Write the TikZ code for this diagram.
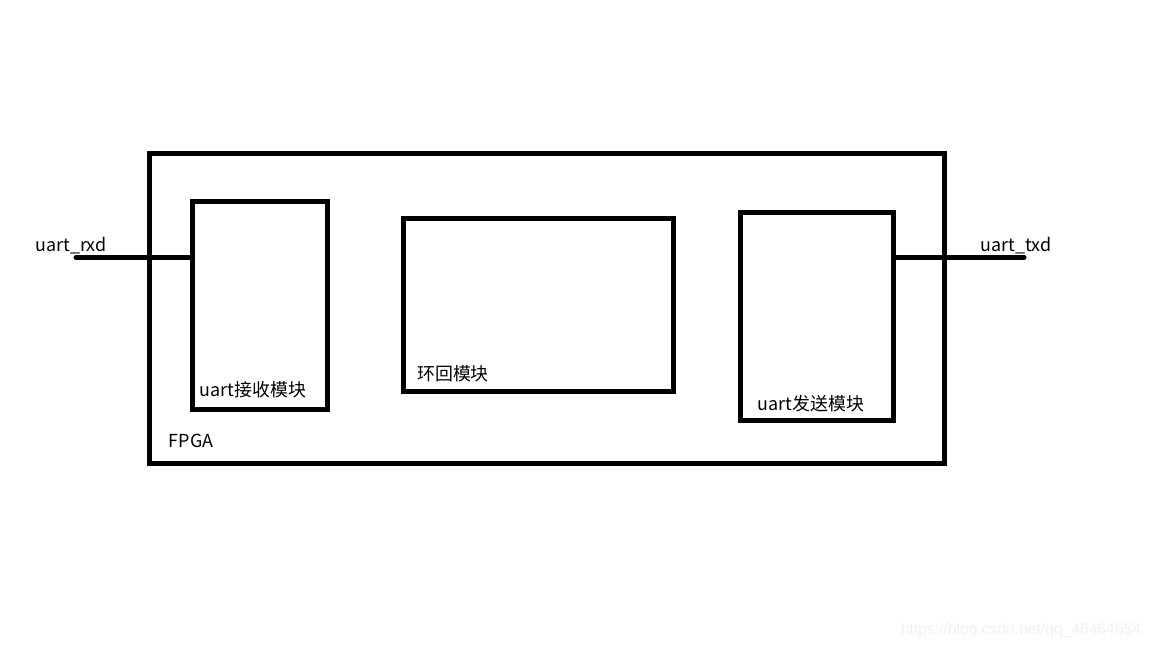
\documentclass[tikz,border=0pt]{standalone}
\usepackage{fontspec}
\setmainfont{Noto Sans CJK SC}
\newfontfamily\markfont{Liberation Sans}
\usepackage{tikz}
\usetikzlibrary{positioning, calc}
\tikzset{
	module/.style={
		rectangle, 
		draw=black, 
		line width=2.85pt,
		inner sep=0pt,
		outer sep=0pt,
		anchor=north west
	},
	label/.style={
		inner sep=0pt,
		font=\fontsize{10.2}{12}\selectfont
	},
	wire/.style={line width=2.85pt, line cap=round}
}

\begin{document}
\begin{tikzpicture}[x=0.02cm, y=-0.02cm]
				\useasboundingbox (0,0) rectangle (1152,648);
				\node (fpga) [module, minimum width=15.9cm, minimum height=6.2cm] at (149.5,153.5) {};
				\node (recv) [module, minimum width=2.7cm, minimum height=4.16cm] at (192.5,201.5) {};
				\node (loop) [module, minimum width=5.4cm, minimum height=3.46cm] at (403.5,218.5) {};
				\node (send) [module, minimum width=3.06cm, minimum height=4.16cm] at (740.5,212.5) {};
				
				\node (recvtxt) [label] at (253,390) {uart接收模块};
				\node (looptxt) [label] at (453,374) {环回模块};
				\node (sendtxt) [label] at (811,404) {uart发送模块};
				\node (fpgatxt) [label] at (191,441) {FPGA};
				
				\coordinate (rxd) at (76,257.5);
				\coordinate (txd) at (1024,257.5);
				\node (rxdtxt) [label] at (71,246) {uart\_rxd};
				\node (txdtxt) [label] at (1016,246) {uart\_txd};
				
				\draw [wire] (rxd) -- (rxd -| recv.west);
				\draw [wire] (send.east |- txd) -- (txd);
				
				\node (mark) [label, text=black!6, font=\markfont\fontsize{8.9}{10}\selectfont] at (1021,630) {https://blog.csdn.net/qq\_46464654};
			\end{tikzpicture}
\end{document}
